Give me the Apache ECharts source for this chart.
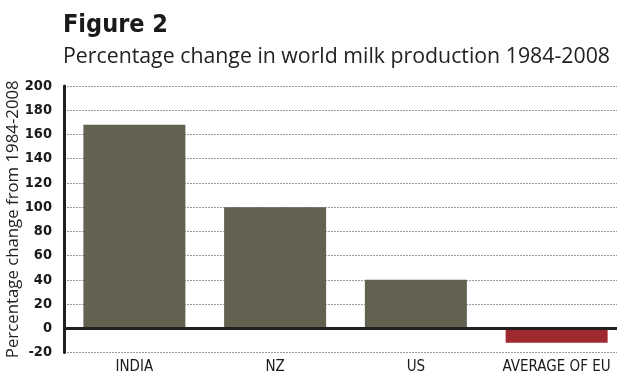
<!DOCTYPE html>
<html><head><meta charset="utf-8">
<script src="https://cdn.jsdelivr.net/npm/echarts@6/dist/echarts.min.js"></script>
<style>html,body{margin:0;padding:0;background:#fff}#c{width:617px;height:376px}</style>
</head><body><div id="c"></div>
<script>
const categories = ['INDIA', 'NZ', 'US', 'AVERAGE OF EU'];
const values = [168, 100, 40, -12];
const barColors = ['#636150', '#636150', '#636150', '#a0292f'];
const titleText = 'Figure 2';
const subtitleText = 'Percentage change in world milk production 1984-2008';
const yAxisName = 'Percentage change from 1984-2008';

const narrow = '"Liberation Sans Narrow", "DejaVu Sans Condensed", sans-serif';
const chart = echarts.init(document.getElementById('c'), null, {renderer: 'canvas'});
chart.setOption({
  animation: false,
  title: [
    {text: titleText, left: 58, top: 8, textStyle: {fontFamily: narrow, fontWeight: 'bold', fontSize: 25, color: '#1a1a1a'}},
    {text: subtitleText, left: 58, top: 41, textStyle: {fontFamily: '"Open Sans", sans-serif', fontWeight: 'normal', fontSize: 21.3, color: '#222'}}
  ],
  grid: {left: 64, right: -10, top: 86, bottom: 23.5, outerBoundsMode: 'none', containLabel: false},
  xAxis: {
    type: 'category', data: categories,
    axisLine: {show: false, onZero: false}, axisTick: {show: false},
    axisLabel: {interval: 0, fontFamily: narrow, fontSize: 15, color: '#1a1a1a', margin: 7}
  },
  yAxis: {
    type: 'value', min: -20, max: 200, interval: 20,
    name: yAxisName, nameLocation: 'middle', nameGap: 42, nameMoveOverlap: false,
    nameTextStyle: {fontFamily: '"Open Sans", sans-serif', fontSize: 16.8, color: '#222'},
    axisLine: {show: true, lineStyle: {color: '#231f20', width: 3}},
    axisTick: {show: false},
    axisLabel: {fontFamily: narrow, fontWeight: 'bold', fontSize: 14.5, color: '#1a1a1a', margin: 12},
    splitLine: {show: true, lineStyle: {color: '#9a9a9a', type: [2, 1], width: 1}}
  },
  series: [{
    type: 'bar', data: values.map((v, i) => ({value: v, itemStyle: {color: barColors[i]}})),
    barWidth: 102,
    markLine: {
      silent: true, symbol: 'none', label: {show: false},
      lineStyle: {color: '#231f20', width: 3, type: 'solid'},
      data: [{yAxis: 0}]
    }
  }]
});
</script></body></html>
